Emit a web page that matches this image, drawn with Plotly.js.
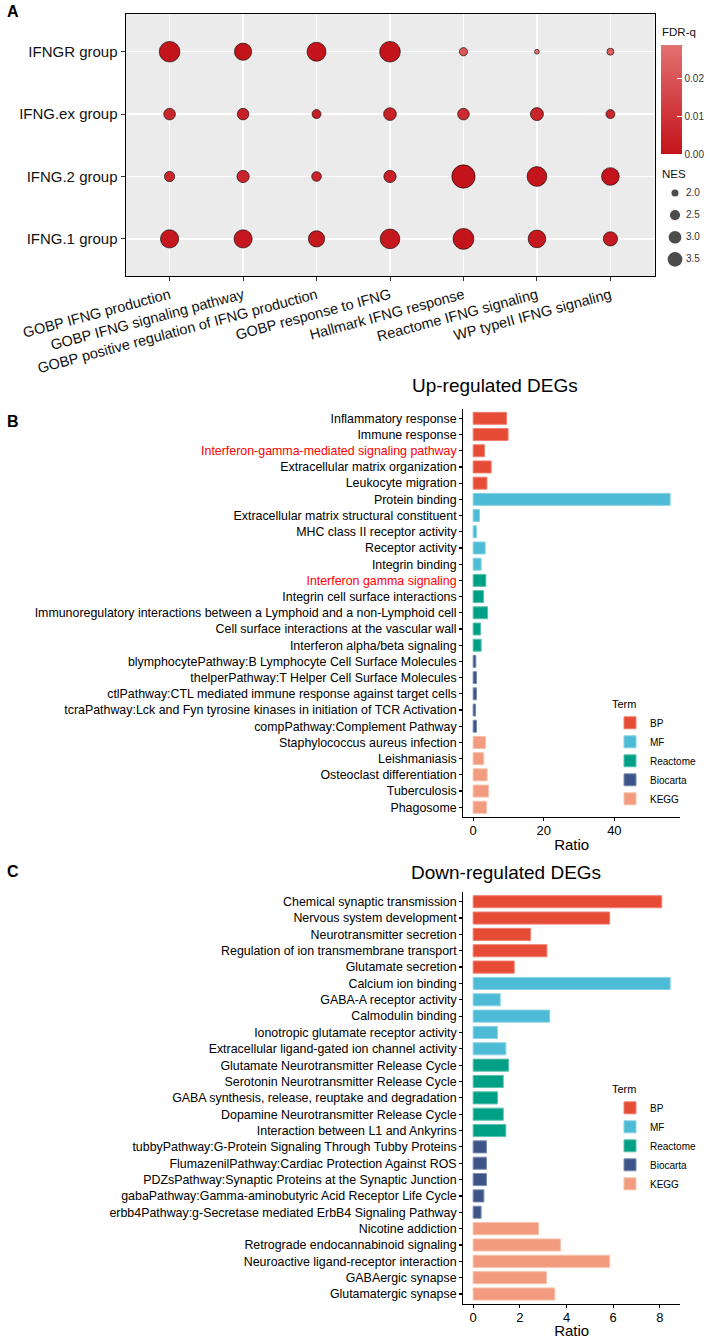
<!DOCTYPE html>
<html>
<head>
<meta charset="utf-8">
<script src="https://cdn.plot.ly/plotly-3.0.1.min.js"></script>
<style>html,body{margin:0;padding:0;background:#fff;}#chart{width:710px;height:1339px;}</style>
</head>
<body>
<div id="chart"></div>
<script>
// ---------------- DATA ----------------
// Panel A: dot plot
const pathways = ["GOBP IFNG production", "GOBP IFNG signaling pathway", "GOBP positive regulation of IFNG production",
  "GOBP response to IFNG", "Hallmark IFNG response", "Reactome IFNG signaling", "WP typeII IFNG signaling"];
const groups = ["IFNGR group", "IFNG.ex group", "IFNG.2 group", "IFNG.1 group"];
const nesIFNGR = [3.24, 2.73, 2.98, 3.24, 1.82, 1.64, 1.74];
const nesIFNGex = [2.09, 2.09, 1.87, 2.19, 2.09, 2.22, 1.87];
const nesIFNG2 = [1.97, 2.15, 1.92, 2.15, 3.70, 3.09, 2.79];
const nesIFNG1 = [2.87, 2.87, 2.60, 3.09, 3.29, 2.79, 2.36];
const fdrIFNGR = [0.000, 0.000, 0.000, 0.000, 0.021, 0.0287, 0.024];
const fdrIFNGex = [0.006, 0.004, 0.003, 0.004, 0.007, 0.005, 0.006];
const fdrIFNG2 = [0.006, 0.005, 0.005, 0.004, 0.000, 0.000, 0.000];
const fdrIFNG1 = [0.001, 0.001, 0.001, 0.001, 0.000, 0.001, 0.002];
const nesBreaks = [2.0, 2.5, 3.0, 3.5];
const fdrTicks = [0, 0.01, 0.02];

// Panel B: up-regulated DEGs
const upTerms = ["Inflammatory response", "Immune response", "Interferon-gamma-mediated signaling pathway",
  "Extracellular matrix organization", "Leukocyte migration", "Protein binding",
  "Extracellular matrix structural constituent", "MHC class II receptor activity", "Receptor activity",
  "Integrin binding", "Interferon gamma signaling", "Integrin cell surface interactions",
  "Immunoregulatory interactions between a Lymphoid and a non-Lymphoid cell",
  "Cell surface interactions at the vascular wall", "Interferon alpha/beta signaling",
  "blymphocytePathway:B Lymphocyte Cell Surface Molecules", "thelperPathway:T Helper Cell Surface Molecules",
  "ctlPathway:CTL mediated immune response against target cells",
  "tcraPathway:Lck and Fyn tyrosine kinases in initiation of TCR Activation",
  "compPathway:Complement Pathway", "Staphylococcus aureus infection", "Leishmaniasis",
  "Osteoclast differentiation", "Tuberculosis", "Phagosome"];
const upRatio = [9.46, 9.9, 3.2, 5.1, 3.9, 55.8, 1.8, 0.96, 3.4, 2.27, 3.6, 2.95, 4.1, 2.1, 2.27,
  0.76, 0.96, 0.96, 0.68, 0.96, 3.5, 3.0, 3.97, 4.36, 3.8];
const upSource = ["BP","BP","BP","BP","BP","MF","MF","MF","MF","MF","Reactome","Reactome","Reactome","Reactome","Reactome",
  "Biocarta","Biocarta","Biocarta","Biocarta","Biocarta","KEGG","KEGG","KEGG","KEGG","KEGG"];
const upHighlight = ["Interferon-gamma-mediated signaling pathway", "Interferon gamma signaling"];
const upTicks = [0, 20, 40];

// Panel C: down-regulated DEGs
const downTerms = ["Chemical synaptic transmission", "Nervous system development", "Neurotransmitter secretion",
  "Regulation of ion transmembrane transport", "Glutamate secretion", "Calcium ion binding",
  "GABA-A receptor activity", "Calmodulin binding", "Ionotropic glutamate receptor activity",
  "Extracellular ligand-gated ion channel activity", "Glutamate Neurotransmitter Release Cycle",
  "Serotonin Neurotransmitter Release Cycle", "GABA synthesis, release, reuptake and degradation",
  "Dopamine Neurotransmitter Release Cycle", "Interaction between L1 and Ankyrins",
  "tubbyPathway:G-Protein Signaling Through Tubby Proteins", "FlumazenilPathway:Cardiac Protection Against ROS",
  "PDZsPathway:Synaptic Proteins at the Synaptic Junction", "gabaPathway:Gamma-aminobutyric Acid Receptor Life Cycle",
  "erbb4Pathway:g-Secretase mediated ErbB4 Signaling Pathway", "Nicotine addiction",
  "Retrograde endocannabinoid signaling", "Neuroactive ligand-receptor interaction", "GABAergic synapse",
  "Glutamatergic synapse"];
const downRatio = [8.08, 5.85, 2.46, 3.16, 1.76, 8.44, 1.16, 3.28, 1.04, 1.40, 1.52, 1.29, 1.04, 1.29, 1.40,
  0.57, 0.57, 0.57, 0.46, 0.34, 2.80, 3.74, 5.85, 3.14, 3.50];
const downSource = upSource.slice();
const downTicks = [0, 2, 4, 6, 8];

const sources = ["BP", "MF", "Reactome", "Biocarta", "KEGG"];

// ---------------- STYLE ----------------
const W = 710, H = 1339;
const FONT = "Liberation Sans, Arial, Helvetica, sans-serif";
const srcColor = {BP: "#E64B35", MF: "#4DBBD5", Reactome: "#00A087", Biocarta: "#3C5488", KEGG: "#F39B7F"};
const srcEdge = {BP: "#F08070", MF: "#8AD3E4", Reactome: "#5CC2AE", Biocarta: "#7D8DB0", KEGG: "#F8C0AC"};
const px = x => x / W;
const py = y => 1 - y / H;
const dotSize = v => 15.9 * Math.sqrt(Math.max(v - 1.55, 0.02));

// ---------------- TRACES ----------------
const traces = [];
const nesRows = [nesIFNGR, nesIFNGex, nesIFNG2, nesIFNG1];
const fdrRows = [fdrIFNGR, fdrIFNGex, fdrIFNG2, fdrIFNG1];
const ax = [], ay = [], asz = [], acol = [];
groups.forEach((g, gi) => {
  pathways.forEach((p, pi) => {
    ax.push(p); ay.push(g);
    asz.push(dotSize(nesRows[gi][pi]));
    acol.push(fdrRows[gi][pi]);
  });
});
const fdrMax = Math.max(...acol);
traces.push({
  type: "scatter", mode: "markers", x: ax, y: ay, xaxis: "x", yaxis: "y", showlegend: false,
  marker: {
    size: asz, sizemode: "diameter", color: acol, cmin: 0, cmax: fdrMax,
    colorscale: [[0, "#C3141B"], [1, "#E37070"]],
    line: {color: "#000", width: 0.6}, opacity: 1,
    showscale: true,
    colorbar: {
      x: px(660.7), xanchor: "left", xref: "paper", y: py(45), yanchor: "top", yref: "paper",
      len: (154 - 45) / H, lenmode: "fraction", thickness: 21, thicknessmode: "pixels",
      outlinewidth: 0, xpad: 0, ypad: 0,
      tickvals: fdrTicks, ticktext: fdrTicks.map(v => v.toFixed(2)),
      ticks: "inside", ticklen: 5, tickcolor: "white", tickwidth: 1,
      tickfont: {size: 10, color: "#333", family: FONT},
      title: {text: ""}
    }
  },
  hovertemplate: "%{y}<br>%{x}<extra></extra>"
});
// NES size legend
traces.push({
  type: "scatter", mode: "markers", x: nesBreaks.map(() => 20), y: nesBreaks, xaxis: "x4", yaxis: "y4",
  showlegend: false, hoverinfo: "skip",
  marker: {color: "#000", size: nesBreaks.map(v => 0.66 * dotSize(v)), line: {width: 0}}
});
traces.push({
  type: "scatter", mode: "text", x: nesBreaks.map(() => 31), y: nesBreaks, xaxis: "x4", yaxis: "y4",
  text: nesBreaks.map(v => v.toFixed(1)), textposition: "middle right",
  textfont: {size: 10, color: "#333", family: FONT}, showlegend: false, hoverinfo: "skip"
});

function addBars(terms, ratio, src, xa, ya, legendId) {
  sources.forEach(s => {
    const idx = src.map((v, i) => v === s ? i : -1).filter(i => i >= 0);
    traces.push({
      type: "bar", orientation: "h", name: s, legend: legendId,
      x: idx.map(i => ratio[i]), y: idx.map(i => terms[i]),
      xaxis: xa, yaxis: ya, width: 0.74,
      marker: {color: srcColor[s], line: {color: srcEdge[s], width: 1}},
      hovertemplate: "%{y}: %{x}<extra>" + s + "</extra>"
    });
  });
}
addBars(upTerms, upRatio, upSource, "x2", "y2", "legend");
addBars(downTerms, downRatio, downSource, "x3", "y3", "legend2");

// ---------------- LAYOUT ----------------
const upMax = Math.max(...upRatio), downMax = Math.max(...downRatio);
const barX = {
  showgrid: false, zeroline: false, showline: true, linecolor: "#000", linewidth: 1.2,
  ticks: "outside", ticklen: 3, tickcolor: "#000", tickwidth: 1.2, ticklabelstandoff: -2,
  tickfont: {size: 13, color: "#000", family: FONT}
};
const barY = {
  type: "category", showgrid: false, zeroline: false, showline: true, linecolor: "#000", linewidth: 1.2,
  ticks: "outside", ticklen: 3, tickcolor: "#000", tickwidth: 1.2,
  tickfont: {size: 12.4, color: "#000", family: FONT}
};
const legendBase = {
  xanchor: "left", yanchor: "top", bgcolor: "rgba(0,0,0,0)", borderwidth: 0,
  font: {size: 10, family: FONT, color: "#000"}, tracegroupgap: 0, itemclick: false,
  title: {text: "Term", font: {size: 11, family: FONT, color: "#000"}}
};
const ann = (x, y, text, size, opts) => Object.assign({
  xref: "paper", yref: "paper", x: px(x), y: py(y), text: text, showarrow: false,
  xanchor: "center", yanchor: "middle", font: {size: size, family: FONT, color: "#000"}
}, opts || {});

const layout = {
  width: W, height: H, margin: {l: 0, r: 0, t: 0, b: 0},
  paper_bgcolor: "#fff", plot_bgcolor: "rgba(0,0,0,0)",
  font: {family: FONT, color: "#000"}, barmode: "overlay", hovermode: "closest",
  xaxis: {
    domain: [px(125.5), px(654.5)], anchor: "y", type: "category", categoryarray: pathways,
    range: [-0.6, 6.6], showgrid: true, gridcolor: "#fff", gridwidth: 1.3, zeroline: false,
    ticks: "outside", ticklen: 4, tickcolor: "#333", tickangle: -15,
    tickfont: {size: 14.5, color: "#111", family: FONT},
    showline: true, mirror: true, linecolor: "#000", linewidth: 1
  },
  yaxis: {
    domain: [py(276.3), py(14.3)], anchor: "x", type: "category", categoryarray: groups.slice().reverse(),
    range: [-0.6, 3.6], showgrid: true, gridcolor: "#fff", gridwidth: 1.3, zeroline: false,
    ticks: "outside", ticklen: 4, tickcolor: "#333",
    tickfont: {size: 15, color: "#111", family: FONT},
    showline: true, mirror: true, linecolor: "#000", linewidth: 1
  },
  xaxis2: Object.assign({}, barX, {
    domain: [px(463.3), px(680)], anchor: "y2", range: [-0.05 * upMax, 1.05 * upMax], tickvals: upTicks,
    title: {text: "Ratio", font: {size: 15, family: FONT, color: "#000"}, standoff: 2}
  }),
  yaxis2: Object.assign({}, barY, {
    domain: [py(817), py(408.6)], anchor: "x2", categoryarray: upTerms, range: [upTerms.length - 0.4, -0.6],
    tickvals: upTerms,
    ticktext: upTerms.map(t => upHighlight.includes(t) ? '<span style="color:#FF0000">' + t + '</span>' : t)
  }),
  xaxis3: Object.assign({}, barX, {
    domain: [px(463.3), px(680)], anchor: "y3", range: [-0.05 * downMax, 1.05 * downMax], tickvals: downTicks,
    title: {text: "Ratio", font: {size: 15, family: FONT, color: "#000"}, standoff: 2}
  }),
  yaxis3: Object.assign({}, barY, {
    domain: [py(1303.8), py(891.9)], anchor: "x3", categoryarray: downTerms,
    range: [downTerms.length - 0.4, -0.6]
  }),
  xaxis4: {domain: [px(655), px(705)], anchor: "y4", range: [0, 50], visible: false, fixedrange: true},
  yaxis4: {domain: [py(272), py(180)], anchor: "x4", range: [3.787, 1.706], visible: false, fixedrange: true},
  legend: Object.assign({}, legendBase, {x: px(610), y: py(694)}),
  legend2: Object.assign({}, legendBase, {x: px(610), y: py(1079)}),
  shapes: [{
    type: "rect", xref: "x domain", yref: "y domain", x0: 0, x1: 1, y0: 0, y1: 1,
    fillcolor: "#EBEBEB", line: {width: 0}, layer: "below"
  }],
  annotations: [
    ann(5, 12, "<b>A</b>", 16, {xanchor: "left"}),
    ann(5, 422, "<b>B</b>", 16, {xanchor: "left"}),
    ann(5, 872, "<b>C</b>", 16, {xanchor: "left"}),
    ann(495, 385, "Up-regulated DEGs", 19),
    ann(506, 872.5, "Down-regulated DEGs", 19),
    ann(660, 32, "FDR-q", 11.5, {xanchor: "left", font: {size: 11.5, family: FONT, color: "#111"}}),
    ann(660, 174, "NES", 11.5, {xanchor: "left", font: {size: 11.5, family: FONT, color: "#111"}})
  ]
};

Plotly.newPlot("chart", traces, layout, {displayModeBar: false, staticPlot: true});
</script>
</body>
</html>
